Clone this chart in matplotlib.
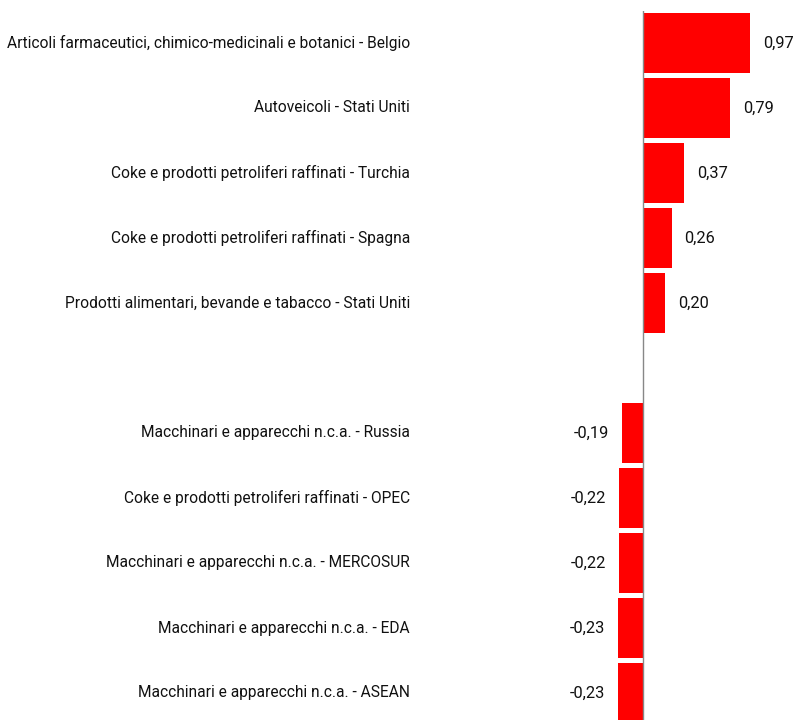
import matplotlib
matplotlib.use("Agg")
import matplotlib.pyplot as plt

categories = [
    "Articoli farmaceutici, chimico-medicinali e botanici - Belgio",
    "Autoveicoli - Stati Uniti",
    "Coke e prodotti petroliferi raffinati - Turchia",
    "Coke e prodotti petroliferi raffinati - Spagna",
    "Prodotti alimentari, bevande e tabacco - Stati Uniti",
    "Macchinari e apparecchi n.c.a. - Russia",
    "Coke e prodotti petroliferi raffinati - OPEC",
    "Macchinari e apparecchi n.c.a. - MERCOSUR",
    "Macchinari e apparecchi n.c.a. - EDA",
    "Macchinari e apparecchi n.c.a. - ASEAN",
]
values = [0.97, 0.79, 0.37, 0.26, 0.20, -0.19, -0.22, -0.22, -0.23, -0.23]

plt.rcParams["font.family"] = ["Roboto", "DejaVu Sans"]

W, H = 795, 720
fig = plt.figure(figsize=(W / 100, H / 100), dpi=100)
zero_px = 643
scale = 110.0
pitch = 65.0
top_px = 10.5
ax = fig.add_axes([0, 0, 1, (H - top_px) / H])
ax.set_xlim(-zero_px / scale, (W - zero_px) / scale)
ax.set_ylim((H - top_px) / pitch - 0.5, -0.5)
ax.axis("off")

# positions: gap of one slot between positives and negatives
positions = []
p = 0
for i, v in enumerate(values):
    if i > 0 and values[i - 1] > 0 and v < 0:
        p += 1
    positions.append(p)
    p += 1

ax.barh(positions, values, height=0.92, color="#FF0000", zorder=2)
ax.axvline(0, color="#888888", lw=1.0, zorder=3)

fs = 11.2
lab_x = 410 / W
for y, c, v in zip(positions, categories, values):
    ax.text(lab_x, y, c, transform=ax.get_yaxis_transform(), ha="right",
            va="center", fontsize=fs, color="#111111")
    txt = f"{v:.2f}".replace(".", ",")
    off = 13 / scale
    if v >= 0:
        ax.text(v + off, y, txt, ha="left", va="center", fontsize=11.8, color="#111111")
    else:
        ax.text(v - off, y, txt, ha="right", va="center", fontsize=11.8, color="#111111")

fig.savefig("out.png", dpi=100)
